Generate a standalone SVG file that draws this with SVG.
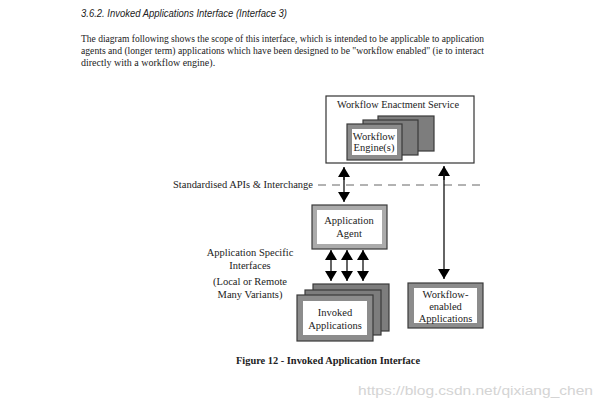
<svg xmlns="http://www.w3.org/2000/svg" width="607" height="409" viewBox="0 0 607 409">
<defs>
<style>
.t{font-family:"Liberation Serif","Times New Roman",serif;fill:#222}
.lbl{font-family:"Liberation Serif","Times New Roman",serif;font-size:10.5px;fill:#222;text-anchor:middle}
.back{fill:#7d7d7d;stroke:#3a3a3a;stroke-width:1.2}
.band{fill:#8c8c8c;stroke:#3a3a3a;stroke-width:1.2}
.lband{fill:#ababab;stroke:#3a3a3a;stroke-width:1.2}
.inner{fill:#fff;stroke:none}
.conn{stroke:#111;stroke-width:1.3;fill:none}
</style>
<marker id="ah" viewBox="0 0 10 12" refX="10" refY="6" markerWidth="10" markerHeight="12" markerUnits="userSpaceOnUse" orient="auto">
<path d="M0,0 L10,6 L0,12 Z" fill="#000"/>
</marker>
</defs>
<rect width="607" height="409" fill="#fff"/>
<g id="heading">
<text x="81" y="17" font-family="Liberation Sans, Arial, sans-serif" font-style="italic" font-size="10.5" fill="#222" textLength="206" lengthAdjust="spacingAndGlyphs">3.6.2.  Invoked Applications Interface (Interface 3)</text>
<text class="t" x="81" y="42" font-size="10" textLength="403" lengthAdjust="spacingAndGlyphs">The diagram following shows the scope of this interface, which is intended to be applicable to application</text>
<text class="t" x="81" y="54" font-size="10" textLength="403" lengthAdjust="spacingAndGlyphs">agents and (longer term) applications which have been designed to be "workflow enabled" (ie to interact</text>
<text class="t" x="81" y="66" font-size="10">directly with a workflow engine).</text>
</g>
<g id="connectors">
<line x1="318" y1="185" x2="482" y2="185" stroke="#666" stroke-width="1" stroke-dasharray="8,6"/>
<line class="conn" x1="344" y1="180" x2="344" y2="167" marker-end="url(#ah)"/>
<line class="conn" x1="344" y1="176" x2="344" y2="202" marker-end="url(#ah)"/>
<line class="conn" x1="444" y1="180" x2="444" y2="166" marker-end="url(#ah)"/>
<line class="conn" x1="444" y1="172" x2="444" y2="279" marker-end="url(#ah)"/>
<line class="conn" x1="331" y1="262" x2="331" y2="250" marker-end="url(#ah)"/>
<line class="conn" x1="331" y1="262" x2="331" y2="281" marker-end="url(#ah)"/>
<line class="conn" x1="347" y1="262" x2="347" y2="250" marker-end="url(#ah)"/>
<line class="conn" x1="347" y1="262" x2="347" y2="281" marker-end="url(#ah)"/>
<line class="conn" x1="363" y1="262" x2="363" y2="250" marker-end="url(#ah)"/>
<line class="conn" x1="363" y1="262" x2="363" y2="281" marker-end="url(#ah)"/>
</g>
<g id="wes">
<rect x="326" y="96" width="148" height="67" fill="#fff" stroke="#333" stroke-width="1.2"/>
<text class="lbl" x="398" y="108" textLength="122" lengthAdjust="spacingAndGlyphs">Workflow Enactment Service</text>
</g>
<g id="engines">
<rect class="back" x="378" y="116" width="56" height="35"/>
<rect class="back" x="363" y="120" width="55" height="35"/>
<rect class="band" x="347" y="124" width="55" height="36"/>
<rect class="inner" x="352" y="129" width="45" height="26"/>
<text class="lbl" x="374" y="140">Workflow</text>
<text class="lbl" x="374" y="151">Engine(s)</text>
</g>
<g id="standard-label">
<text class="t" x="173" y="188" font-size="10.5" textLength="140" lengthAdjust="spacingAndGlyphs">Standardised APIs &amp; Interchange</text>
</g>
<g id="agent">
<rect class="lband" x="312" y="205" width="75" height="44"/>
<rect class="inner" x="317" y="210" width="65" height="34"/>
<text class="lbl" x="349" y="224">Application</text>
<text class="lbl" x="349" y="237">Agent</text>
</g>
<g id="app-specific-label">
<text class="lbl" x="250" y="256">Application Specific</text>
<text class="lbl" x="250" y="269">Interfaces</text>
<text class="lbl" x="250" y="285">(Local or Remote</text>
<text class="lbl" x="250" y="298">Many Variants)</text>
</g>
<g id="invoked">
<rect class="back" x="313" y="284" width="76" height="47"/>
<rect class="back" x="305" y="290" width="76" height="45"/>
<rect class="band" x="297" y="295" width="76" height="46"/>
<rect class="inner" x="303" y="301" width="64" height="34"/>
<text class="lbl" x="335" y="316">Invoked</text>
<text class="lbl" x="335" y="329">Applications</text>
</g>
<g id="wf-enabled">
<rect class="band" x="408" y="283" width="75" height="45"/>
<rect class="inner" x="414" y="288" width="63" height="35"/>
<text class="lbl" x="445.5" y="298">Workflow-</text>
<text class="lbl" x="445.5" y="310">enabled</text>
<text class="lbl" x="445.5" y="322">Applications</text>
</g>
<g id="caption">
<text class="t" x="236" y="364" font-size="10" font-weight="bold" textLength="184" lengthAdjust="spacingAndGlyphs">Figure 12 - Invoked Application Interface</text>
<text x="358" y="395" font-family="Liberation Sans, Arial, sans-serif" font-size="13" fill="#d4d4d4" textLength="235" lengthAdjust="spacingAndGlyphs">https://blog.csdn.net/qixiang_chen</text>
</g>
</svg>
